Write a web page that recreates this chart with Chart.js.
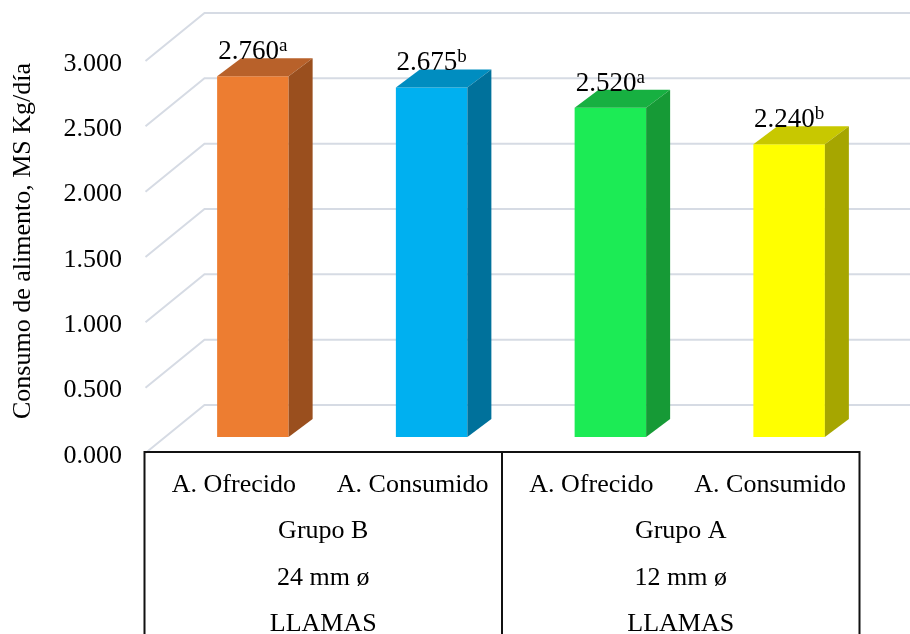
<!DOCTYPE html>
<html>
<head>
<meta charset="utf-8">
<script src="https://cdn.jsdelivr.net/npm/chart.js@4.4.1/dist/chart.umd.min.js"></script>
<style>
  html, body { margin: 0; padding: 0; background: #fff; }
  canvas { display: block; }
</style>
</head>
<body>
<canvas id="chart" width="910" height="634"></canvas>
<script>
// data
const categories = ['A. Ofrecido', 'A. Consumido', 'A. Ofrecido', 'A. Consumido'];
const groups = ['Grupo B', 'Grupo A'];
const diameters = ['24 mm ø', '12 mm ø'];
const species = ['LLAMAS', 'LLAMAS'];
const consumo = [2.760, 2.675, 2.520, 2.240];
const letters = ['a', 'b', 'a', 'b'];
const yTicks = [0, 0.5, 1, 1.5, 2, 2.5, 3];

const frontColors = ['#ED7D31', '#00B0F0', '#1CEB55', '#FFFF00'];
const topColors = ['#B8612A', '#008DC0', '#17B041', '#C8C800'];
const sideColors = ['#9A4F1E', '#00719B', '#169A36', '#A6A600'];

const FONT = "'Liberation Serif', 'Times New Roman', serif";
const DX = 24, DY = -18; // bar depth

// back wall + side wall lines (3D look)
const wallPlugin = {
    id: 'wall',
    beforeDatasetsDraw(chart) {
        const { ctx, chartArea } = chart;
        const y = chart.scales.y;
        const fx = chartArea.left - 18, bx = chartArea.left + 41;
        ctx.save();
        ctx.strokeStyle = '#D6DBE4';
        ctx.lineWidth = 2;
        yTicks.forEach(v => {
            const py = y.getPixelForValue(v);
            ctx.beginPath();
            ctx.moveTo(fx, py + 16);
            ctx.lineTo(bx, py - 32);
            ctx.lineTo(chart.width, py - 32);
            ctx.stroke();
        });
        ctx.restore();
    }
};

// top and side faces of the bars, plus value labels
const boxPlugin = {
    id: 'box',
    afterDatasetsDraw(chart) {
        const ctx = chart.ctx;
        const meta = chart.getDatasetMeta(0);
        ctx.save();
        meta.data.forEach((bar, i) => {
            const { x, y, base, width } = bar.getProps(['x', 'y', 'base', 'width'], true);
            const l = x - width / 2, r = x + width / 2;

            ctx.fillStyle = topColors[i];
            ctx.beginPath();
            ctx.moveTo(l, y);
            ctx.lineTo(r, y);
            ctx.lineTo(r + DX, y + DY);
            ctx.lineTo(l + DX, y + DY);
            ctx.closePath();
            ctx.fill();

            ctx.fillStyle = sideColors[i];
            ctx.beginPath();
            ctx.moveTo(r, y);
            ctx.lineTo(r + DX, y + DY);
            ctx.lineTo(r + DX, base + DY);
            ctx.lineTo(r, base);
            ctx.closePath();
            ctx.fill();

            // label like 2.760^a
            const num = consumo[i].toFixed(3);
            ctx.fillStyle = '#000';
            ctx.textBaseline = 'alphabetic';
            ctx.textAlign = 'left';
            ctx.font = '27px ' + FONT;
            const w1 = ctx.measureText(num).width;
            ctx.font = '19px ' + FONT;
            const w2 = ctx.measureText(letters[i]).width;
            const sx = x - (w1 + w2) / 2;
            const by = y + DY + 1;
            ctx.font = '27px ' + FONT;
            ctx.fillText(num, sx, by);
            ctx.font = '19px ' + FONT;
            ctx.fillText(letters[i], sx + w1, by - 8);
        });
        ctx.restore();
    }
};

// multi-level category table under the chart
const tablePlugin = {
    id: 'table',
    afterDraw(chart) {
        const ctx = chart.ctx;
        const xs = chart.scales.x, ys = chart.scales.y;
        const step = xs.getPixelForValue(1) - xs.getPixelForValue(0);
        const left = xs.getPixelForValue(0) - step / 2 - 19;
        const top = ys.getPixelForValue(0) + 15;
        const bottom = chart.height;
        ctx.save();
        ctx.strokeStyle = '#111';
        ctx.lineWidth = 2;
        ctx.beginPath();
        ctx.moveTo(left, bottom);
        ctx.lineTo(left, top);
        ctx.lineTo(left + step * 4, top);
        ctx.lineTo(left + step * 4, bottom);
        ctx.moveTo(left + step * 2, top);
        ctx.lineTo(left + step * 2, bottom);
        ctx.stroke();

        ctx.fillStyle = '#000';
        ctx.font = '26px ' + FONT;
        ctx.textAlign = 'center';
        ctx.textBaseline = 'middle';
        categories.forEach((c, i) => ctx.fillText(c, left + step * (i + 0.5), top + 33));
        groups.forEach((g, j) => ctx.fillText(g, left + step * (2 * j + 1), top + 79));
        diameters.forEach((d, j) => ctx.fillText(d, left + step * (2 * j + 1), top + 126));
        species.forEach((s, j) => ctx.fillText(s, left + step * (2 * j + 1), top + 172));
        ctx.restore();
    }
};

new Chart(document.getElementById('chart'), {
    type: 'bar',
    data: {
        labels: categories,
        datasets: [{
            data: consumo,
            backgroundColor: frontColors,
            borderWidth: 0,
            barPercentage: 0.4,
            categoryPercentage: 1
        }]
    },
    options: {
        responsive: false,
        animation: false,
        layout: { padding: { top: 45, bottom: 197, right: 31.5, left: 0 } },
        plugins: {
            legend: { display: false },
            tooltip: { enabled: false }
        },
        scales: {
            x: { display: false },
            y: {
                min: 0,
                max: 3,
                afterFit(scale) {
                    scale.width = 163.5;
                    scale.paddingTop = 0;
                    scale.paddingBottom = 0;
                },
                afterBuildTicks(scale) { scale.ticks = yTicks.map(v => ({ value: v })); },
                grid: { display: false, drawTicks: false },
                border: { display: false },
                ticks: {
                    padding: 41.5,
                    labelOffset: 19,
                    color: '#000',
                    font: { family: FONT, size: 26 },
                    callback: v => Number(v).toFixed(3)
                },
                title: {
                    display: true,
                    text: 'Consumo de alimento, MS Kg/día',
                    color: '#000',
                    font: { family: FONT, size: 26 },
                    padding: { top: 8, bottom: 0 }
                }
            }
        }
    },
    plugins: [wallPlugin, boxPlugin, tablePlugin]
});
</script>
</body>
</html>
